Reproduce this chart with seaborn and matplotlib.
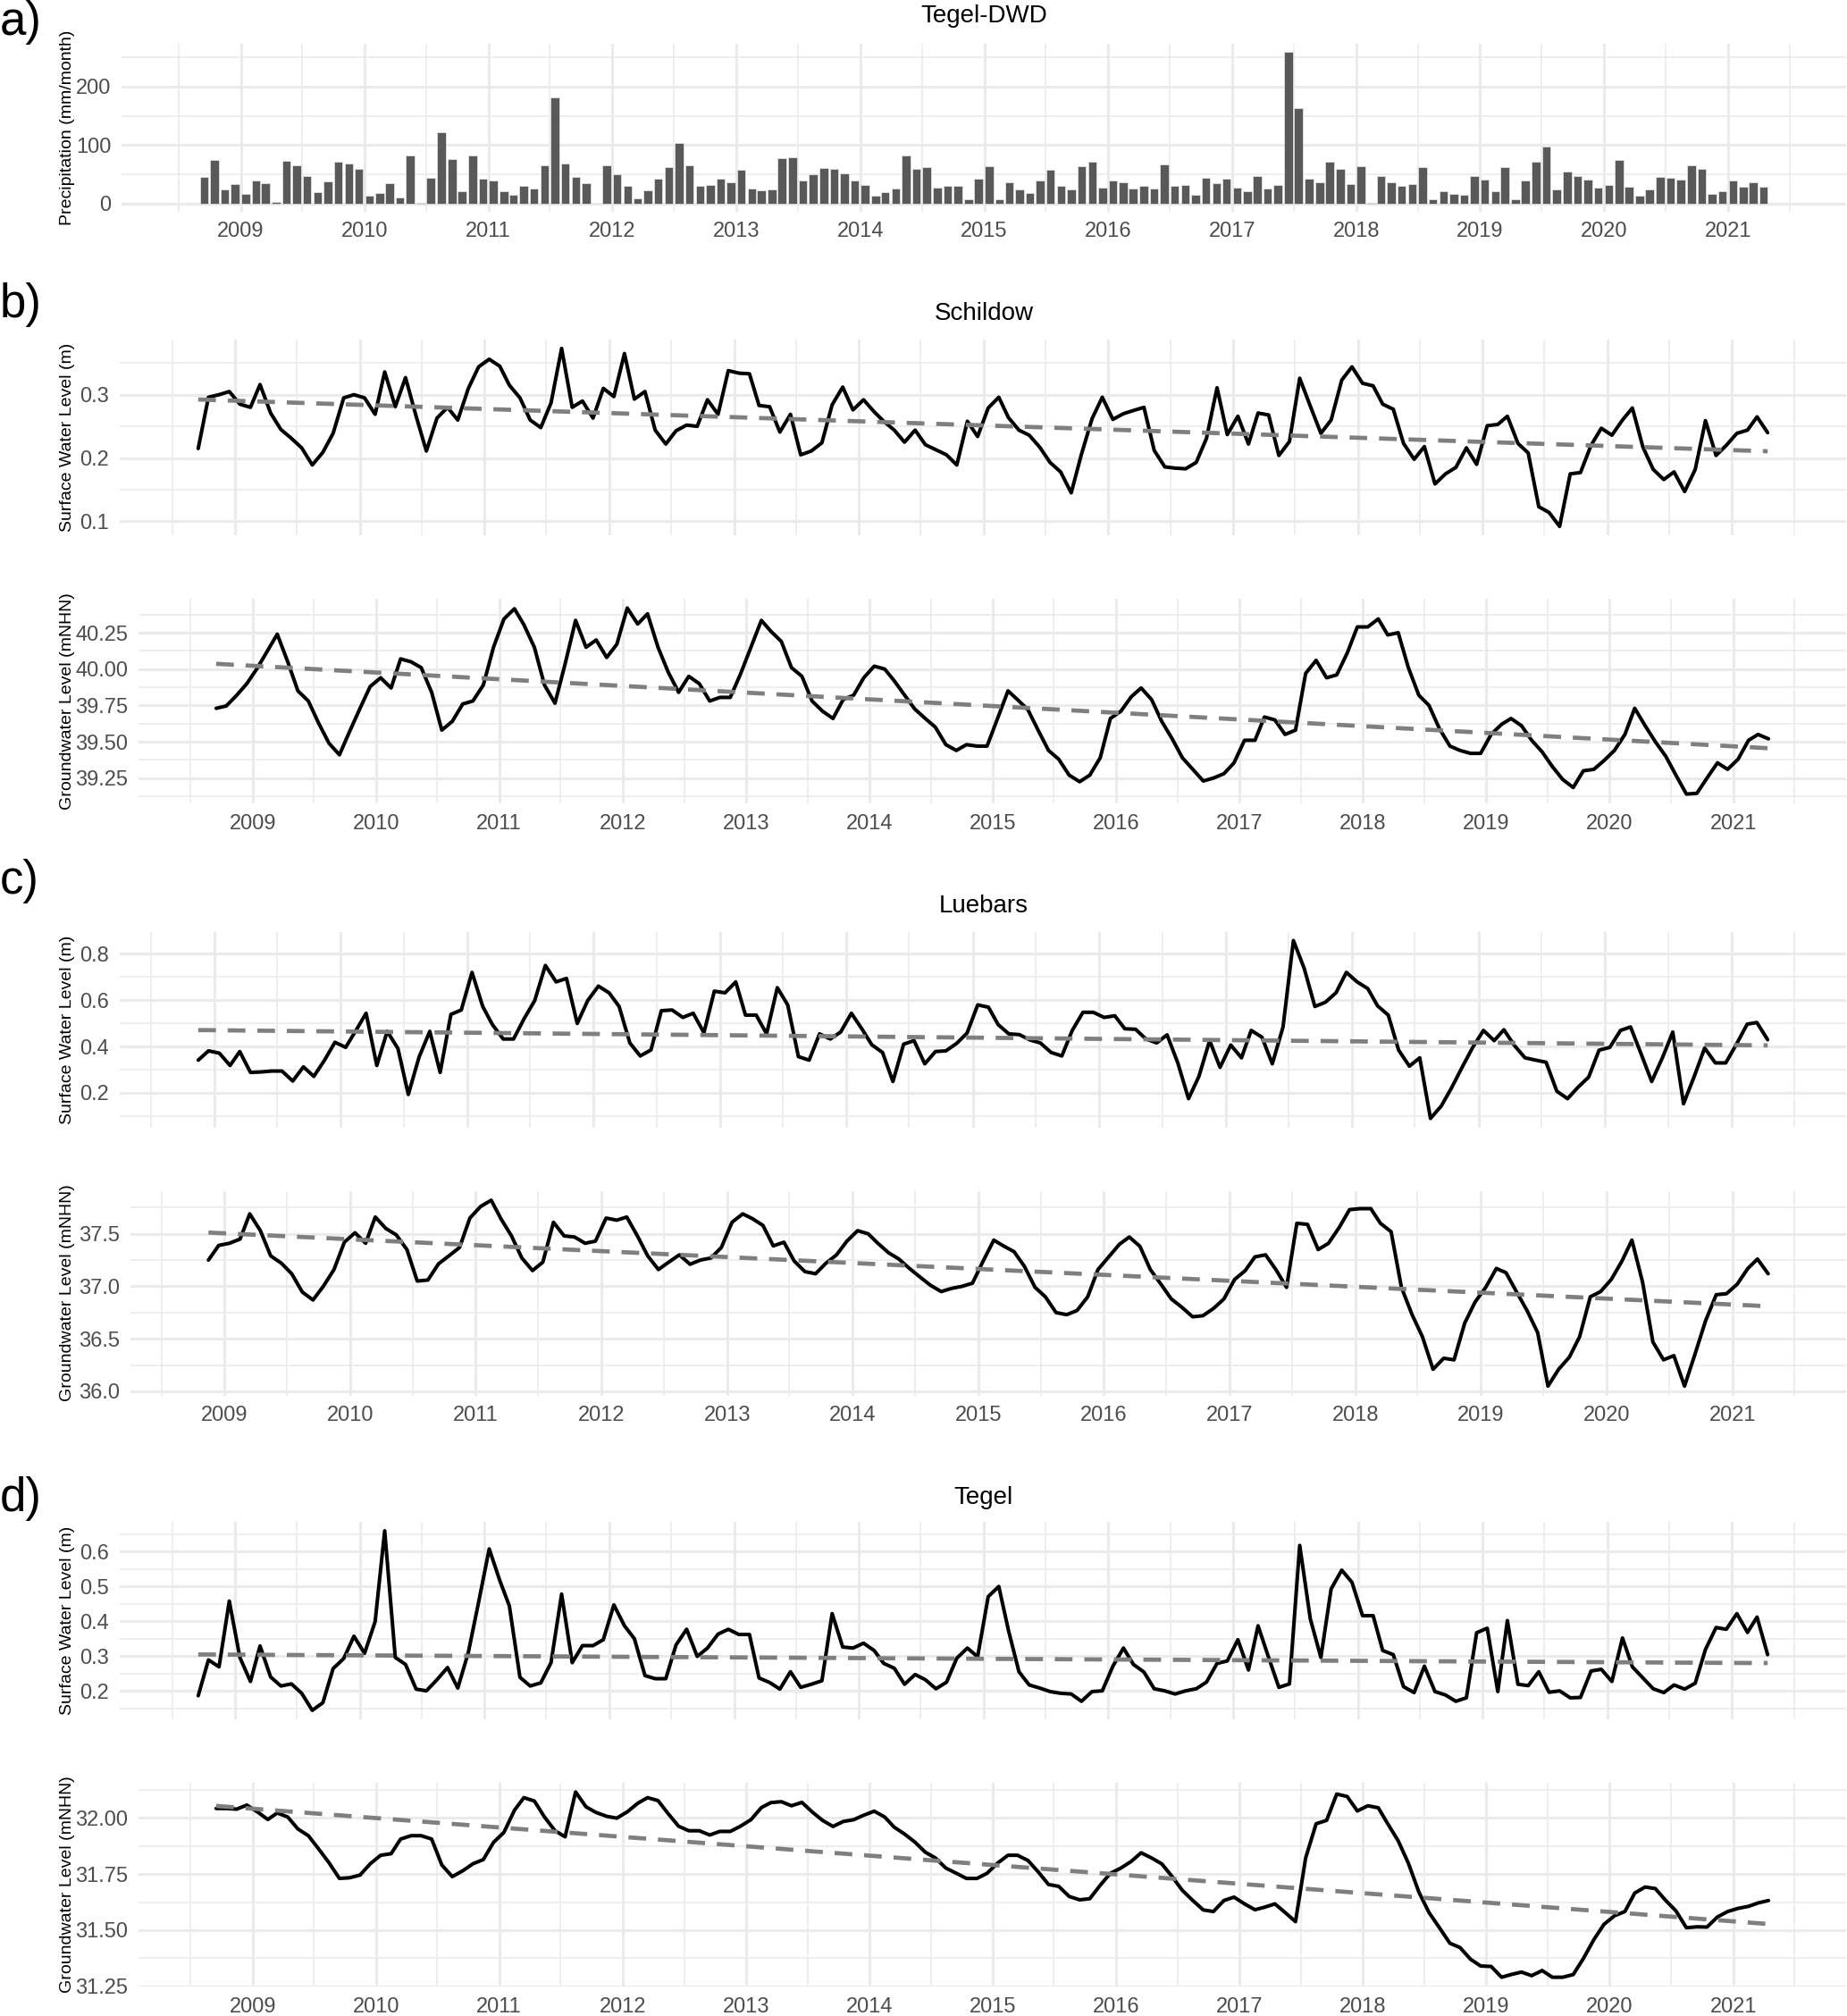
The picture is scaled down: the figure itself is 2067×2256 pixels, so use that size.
import numpy as np
import pandas as pd
import matplotlib
matplotlib.use("Agg")
import matplotlib.pyplot as plt
import matplotlib.dates as mdates
from matplotlib.ticker import MultipleLocator, FormatStrFormatter
import seaborn as sns

# ---- data (monthly) ----
precip_start = "2008-09-01"
precip = [46, 74, 25, 33,
          16, 39, 35, 3, 73, 66, 47, 20, 38, 71, 69, 59,
          14, 18, 35, 10, 83, 2, 44, 122, 76, 22, 83, 42,
          39, 22, 15, 30, 26, 66, 181, 68, 46, 35, 0, 65,
          50, 30, 9, 23, 43, 63, 104, 66, 31, 32, 42, 37,
          58, 26, 23, 25, 78, 80, 40, 50, 61, 59, 52, 39,
          32, 13, 20, 26, 83, 59, 63, 27, 31, 31, 7, 43,
          64, 7, 37, 24, 19, 40, 58, 30, 24, 64, 71, 28,
          40, 37, 26, 31, 26, 67, 30, 32, 15, 44, 35, 43,
          27, 22, 47, 26, 32, 260, 163, 43, 36, 71, 60, 34,
          64, 2, 48, 36, 30, 33, 62, 7, 21, 17, 15, 48,
          41, 21, 62, 8, 39, 71, 98, 24, 55, 47, 41, 27,
          32, 74, 29, 14, 24, 46, 44, 41, 66, 59, 17, 21,
          40, 29, 37, 29]

schildow_start = "2008-09-01"
schildow_sw = [0.215, 0.296, 0.300, 0.305,
               0.285, 0.280, 0.316, 0.271, 0.245, 0.231, 0.216, 0.189, 0.209, 0.239, 0.295, 0.300,
               0.295, 0.269, 0.336, 0.281, 0.327, 0.266, 0.211, 0.263, 0.280, 0.260, 0.310, 0.344,
               0.356, 0.345, 0.315, 0.295, 0.260, 0.248, 0.287, 0.373, 0.280, 0.290, 0.263, 0.310,
               0.297, 0.365, 0.293, 0.305, 0.244, 0.222, 0.243, 0.252, 0.250, 0.292, 0.269, 0.338,
               0.334, 0.333, 0.283, 0.281, 0.241, 0.269, 0.205, 0.211, 0.224, 0.284, 0.312, 0.276,
               0.292, 0.273, 0.258, 0.244, 0.225, 0.244, 0.221, 0.213, 0.205, 0.189, 0.258, 0.234,
               0.279, 0.296, 0.264, 0.244, 0.236, 0.217, 0.193, 0.178, 0.145, 0.206, 0.262, 0.296,
               0.261, 0.270, 0.275, 0.280, 0.212, 0.186, 0.184, 0.183, 0.193, 0.231, 0.311, 0.237,
               0.266, 0.222, 0.271, 0.268, 0.204, 0.226, 0.326, 0.282, 0.239, 0.260, 0.323, 0.344,
               0.318, 0.314, 0.285, 0.277, 0.223, 0.198, 0.218, 0.159, 0.175, 0.185, 0.216, 0.190,
               0.251, 0.253, 0.266, 0.223, 0.208, 0.123, 0.114, 0.092, 0.175, 0.177, 0.220, 0.247,
               0.236, 0.260, 0.279, 0.217, 0.182, 0.166, 0.178, 0.147, 0.182, 0.259, 0.204, 0.220,
               0.239, 0.244, 0.265, 0.240]
schildow_gw = [39.73, 39.746, 39.82, 39.90,
               40.007, 40.13, 40.24, 40.05, 39.85, 39.78, 39.63, 39.49, 39.41, 39.57, 39.73, 39.88,
               39.94, 39.87, 40.07, 40.05, 40.01, 39.84, 39.58, 39.64, 39.76, 39.78, 39.89, 40.15,
               40.345, 40.415, 40.305, 40.15, 39.89, 39.765, 40.035, 40.335, 40.15, 40.20, 40.08, 40.17,
               40.42, 40.31, 40.38, 40.15, 39.98, 39.84, 39.95, 39.90, 39.78, 39.805, 39.805, 39.965,
               40.15, 40.335, 40.26, 40.19, 40.01, 39.95, 39.78, 39.71, 39.66, 39.79, 39.82, 39.94,
               40.02, 40.00, 39.92, 39.82, 39.725, 39.66, 39.60, 39.48, 39.44, 39.48, 39.47, 39.47,
               39.66, 39.85, 39.79, 39.72, 39.58, 39.44, 39.38, 39.27, 39.225, 39.27, 39.39, 39.66,
               39.71, 39.81, 39.87, 39.79, 39.64, 39.52, 39.39, 39.31, 39.23, 39.25, 39.28, 39.355,
               39.51, 39.51, 39.67, 39.65, 39.55, 39.58, 39.97, 40.06, 39.94, 39.96, 40.11, 40.29,
               40.29, 40.345, 40.235, 40.25, 40.01, 39.82, 39.75, 39.59, 39.47, 39.44, 39.42, 39.42,
               39.55, 39.62, 39.66, 39.61, 39.51, 39.43, 39.33, 39.24, 39.185, 39.30, 39.31, 39.37,
               39.44, 39.55, 39.73, 39.61, 39.50, 39.40, 39.27, 39.14, 39.145, 39.25, 39.355, 39.31,
               39.38, 39.51, 39.55, 39.52]

luebars_start = "2008-11-01"
luebars_sw = [0.341, 0.381,
              0.371, 0.318, 0.378, 0.288, 0.290, 0.294, 0.294, 0.251, 0.312, 0.271, 0.341, 0.418,
              0.396, 0.472, 0.543, 0.318, 0.465, 0.391, 0.193, 0.354, 0.465, 0.288, 0.538, 0.557,
              0.719, 0.572, 0.494, 0.432, 0.432, 0.521, 0.597, 0.749, 0.678, 0.693, 0.499, 0.597,
              0.660, 0.631, 0.572, 0.415, 0.359, 0.385, 0.554, 0.557, 0.525, 0.543, 0.459, 0.638,
              0.631, 0.678, 0.535, 0.535, 0.454, 0.653, 0.579, 0.356, 0.341, 0.454, 0.432, 0.462,
              0.543, 0.474, 0.407, 0.374, 0.249, 0.410, 0.425, 0.325, 0.378, 0.381, 0.413, 0.457,
              0.579, 0.569, 0.494, 0.454, 0.451, 0.428, 0.415, 0.374, 0.359, 0.469, 0.547, 0.547,
              0.525, 0.532, 0.476, 0.474, 0.432, 0.415, 0.450, 0.329, 0.175, 0.271, 0.425, 0.310,
              0.406, 0.351, 0.469, 0.440, 0.325, 0.484, 0.856, 0.737, 0.572, 0.590, 0.631, 0.719,
              0.678, 0.649, 0.575, 0.535, 0.384, 0.315, 0.351, 0.090, 0.143, 0.222, 0.312, 0.396,
              0.469, 0.425, 0.472, 0.403, 0.351, 0.341, 0.332, 0.207, 0.175, 0.224, 0.268, 0.384,
              0.396, 0.469, 0.484, 0.366, 0.249, 0.351, 0.462, 0.153, 0.271, 0.393, 0.329, 0.329,
              0.410, 0.496, 0.503, 0.429]
luebars_gw = [37.25, 37.39,
              37.41, 37.45, 37.69, 37.53, 37.29, 37.22, 37.12, 36.945, 36.87, 37.00, 37.16, 37.42,
              37.51, 37.41, 37.66, 37.55, 37.49, 37.35, 37.05, 37.06, 37.215, 37.29, 37.37, 37.65,
              37.76, 37.82, 37.645, 37.48, 37.27, 37.15, 37.23, 37.61, 37.48, 37.47, 37.41, 37.43,
              37.65, 37.63, 37.66, 37.48, 37.29, 37.16, 37.23, 37.30, 37.21, 37.25, 37.27, 37.37,
              37.61, 37.69, 37.645, 37.58, 37.385, 37.42, 37.24, 37.14, 37.12, 37.22, 37.30, 37.43,
              37.53, 37.50, 37.41, 37.32, 37.26, 37.17, 37.09, 37.01, 36.95, 36.98, 37.00, 37.03,
              37.24, 37.44, 37.385, 37.33, 37.19, 36.99, 36.90, 36.75, 36.73, 36.77, 36.90, 37.16,
              37.28, 37.40, 37.47, 37.38, 37.16, 37.02, 36.88, 36.80, 36.71, 36.72, 36.79, 36.88,
              37.065, 37.15, 37.28, 37.30, 37.16, 36.99, 37.60, 37.59, 37.35, 37.41, 37.56, 37.73,
              37.74, 37.74, 37.60, 37.52, 36.99, 36.73, 36.52, 36.21, 36.315, 36.30, 36.65, 36.85,
              36.99, 37.17, 37.13, 36.945, 36.77, 36.56, 36.05, 36.21, 36.325, 36.52, 36.90, 36.95,
              37.065, 37.24, 37.44, 37.04, 36.47, 36.30, 36.34, 36.05, 36.36, 36.67, 36.92, 36.93,
              37.02, 37.17, 37.26, 37.12]

tegel_start = "2008-09-01"
tegel_sw = [0.186, 0.289, 0.269, 0.458,
            0.296, 0.227, 0.329, 0.240, 0.214, 0.220, 0.193, 0.144, 0.166, 0.264, 0.293, 0.357,
            0.308, 0.399, 0.660, 0.296, 0.276, 0.205, 0.200, 0.232, 0.267, 0.208, 0.311, 0.455,
            0.608, 0.517, 0.444, 0.239, 0.214, 0.223, 0.281, 0.478, 0.281, 0.330, 0.330, 0.347,
            0.447, 0.387, 0.350, 0.244, 0.235, 0.235, 0.332, 0.377, 0.299, 0.323, 0.363, 0.377,
            0.362, 0.362, 0.237, 0.224, 0.205, 0.255, 0.210, 0.219, 0.229, 0.422, 0.326, 0.323,
            0.337, 0.316, 0.279, 0.265, 0.219, 0.247, 0.232, 0.206, 0.225, 0.294, 0.323, 0.298,
            0.471, 0.500, 0.375, 0.255, 0.217, 0.208, 0.198, 0.193, 0.191, 0.170, 0.198, 0.200,
            0.271, 0.323, 0.276, 0.254, 0.206, 0.200, 0.191, 0.200, 0.206, 0.225, 0.279, 0.286,
            0.347, 0.260, 0.387, 0.296, 0.210, 0.220, 0.618, 0.407, 0.296, 0.493, 0.547, 0.512,
            0.416, 0.416, 0.316, 0.304, 0.212, 0.195, 0.271, 0.198, 0.188, 0.170, 0.180, 0.367,
            0.380, 0.198, 0.402, 0.219, 0.215, 0.255, 0.196, 0.200, 0.180, 0.181, 0.257, 0.262,
            0.227, 0.352, 0.269, 0.237, 0.206, 0.195, 0.217, 0.205, 0.222, 0.319, 0.382, 0.377,
            0.422, 0.368, 0.412, 0.304]
tegel_gw = [32.041, 32.041, 32.038, 32.056,
            32.026, 31.992, 32.021, 32.003, 31.95, 31.92, 31.862, 31.80, 31.73, 31.733, 31.745, 31.795,
            31.833, 31.84, 31.905, 31.92, 31.92, 31.905, 31.79, 31.738, 31.764, 31.795, 31.814, 31.89,
            31.935, 32.033, 32.089, 32.074, 32.003, 31.942, 31.915, 32.114, 32.048, 32.023, 32.006, 31.998,
            32.026, 32.064, 32.089, 32.076, 32.018, 31.962, 31.942, 31.942, 31.923, 31.939, 31.939, 31.962,
            31.991, 32.045, 32.067, 32.071, 32.053, 32.068, 32.026, 31.988, 31.961, 31.983, 31.991, 32.011,
            32.029, 32.003, 31.958, 31.927, 31.892, 31.847, 31.821, 31.776, 31.753, 31.73, 31.73, 31.753,
            31.798, 31.833, 31.833, 31.81, 31.76, 31.703, 31.695, 31.65, 31.635, 31.64, 31.70, 31.753,
            31.776, 31.806, 31.844, 31.821, 31.795, 31.738, 31.677, 31.632, 31.59, 31.583, 31.632, 31.647,
            31.617, 31.591, 31.602, 31.617, 31.579, 31.538, 31.821, 31.973, 31.988, 32.105, 32.094, 32.03,
            32.053, 32.044, 31.973, 31.897, 31.798, 31.67, 31.579, 31.511, 31.442, 31.423, 31.371, 31.341,
            31.339, 31.291, 31.303, 31.314, 31.298, 31.321, 31.291, 31.291, 31.303, 31.374, 31.458, 31.526,
            31.564, 31.583, 31.665, 31.692, 31.685, 31.632, 31.586, 31.511, 31.515, 31.514, 31.559, 31.583,
            31.597, 31.606, 31.621, 31.632]

# ---- style ----
W, H, DPI = 2067, 2256, 100
GRID = "#EBEBEB"
TICK = "#4D4D4D"
BAR = "#595959"
TREND = "#7F7F7F"

sns.set_theme(style="white")
plt.rcParams["font.family"] = ["Liberation Sans", "DejaVu Sans"]


def box(l, t, r, b):
    return [l / W, 1 - b / H, (r - l) / W, (b - t) / H]


def month_dates(start, n):
    return pd.date_range(start, periods=n, freq="MS") + pd.Timedelta(days=14)


def style(ax, step, fmt, show_x):
    for s in ax.spines.values():
        s.set_visible(False)
    ax.xaxis.set_major_locator(mdates.YearLocator())
    ax.xaxis.set_minor_locator(mdates.MonthLocator(bymonth=7))
    ax.xaxis.set_major_formatter(mdates.DateFormatter("%Y"))
    ax.yaxis.set_major_locator(MultipleLocator(step))
    ax.yaxis.set_minor_locator(MultipleLocator(step / 2))
    ax.yaxis.set_major_formatter(FormatStrFormatter(fmt))
    ax.grid(which="major", color=GRID, lw=2.2)
    ax.grid(which="minor", color=GRID, lw=1.2)
    ax.set_axisbelow(True)
    ax.tick_params(which="both", length=0, labelsize=17, labelcolor=TICK, pad=8.5)
    ax.tick_params(axis="x", labelbottom=show_x)
    ax.set_xlabel("")
    ax.set_ylabel("")


def set_limits(ax, x0, x1, y0, y1):
    dx, dy = (x1 - x0) * 0.05, (y1 - y0) * 0.05
    ax.set_xlim(x0 - dx, x1 + dx)
    ax.set_ylim(y0 - dy, y1 + dy)


def level_panel(ax, start, values, step, fmt, show_x):
    dates = month_dates(start, len(values))
    xn = mdates.date2num(dates)
    sns.lineplot(x=dates, y=values, color="black", lw=2.9, ax=ax)
    sns.regplot(x=xn, y=np.array(values), scatter=False, ci=None, truncate=True, ax=ax,
                line_kws=dict(color=TREND, lw=3.4, ls=(0, (4.2, 2.8))))
    set_limits(ax, xn[0], xn[-1], min(values), max(values))
    style(ax, step, fmt, show_x)


fig = plt.figure(figsize=(W / DPI, H / DPI), dpi=DPI)
fig.patch.set_facecolor("white")

# a) precipitation
ax = fig.add_axes(box(136, 49, 2066, 236.5))
pdates = month_dates(precip_start, len(precip))
pn = mdates.date2num(pdates)
ax.bar(pdates, precip, width=25.2, color=BAR, edgecolor="#E0E0E0", linewidth=0.6)
set_limits(ax, pn[0] - 12.6, pn[-1] + 12.6, 0, max(precip))
style(ax, 100, "%d", True)

# station panels: (surface box, groundwater box, ...)
panels = [
    (box(134, 380, 2066, 599), box(155, 670, 2066, 899), schildow_start, schildow_sw, schildow_gw,
     (0.1, "%.1f"), (0.25, "%.2f")),
    (box(134, 1042.6, 2066, 1261.5), box(146, 1332.7, 2066, 1561.5), luebars_start, luebars_sw, luebars_gw,
     (0.2, "%.1f"), (0.5, "%.1f")),
    (box(134, 1703, 2066, 1924), box(155, 1995, 2066, 2223), tegel_start, tegel_sw, tegel_gw,
     (0.1, "%.1f"), (0.25, "%.2f")),
]
for sw_box, gw_box, start, sw, gw, sw_tk, gw_tk in panels:
    ax_s = fig.add_axes(sw_box)
    level_panel(ax_s, start, sw, sw_tk[0], sw_tk[1], False)
    ax_g = fig.add_axes(gw_box)
    level_panel(ax_g, start, gw, gw_tk[0], gw_tk[1], True)

# titles, panel letters and axis titles
titles = [("Tegel-DWD", 18), ("Schildow", 351), ("Luebars", 1014), ("Tegel", 1676)]
for txt, y in titles:
    fig.text(1101 / W, 1 - y / H, txt, fontsize=20, ha="center", va="center", color="black")

letters = [("a)", 25), ("b)", 341), ("c)", 986), ("d)", 1677)]
for txt, y in letters:
    fig.text(0.0, 1 - y / H, txt, fontsize=38, ha="left", va="center", color="black")

ylabels = [("Precipitation (mm/month)", (49 + 236.5) / 2),
           ("Surface Water Level (m)", (380 + 599) / 2),
           ("Groundwater Level (mNHN)", (670 + 899) / 2),
           ("Surface Water Level (m)", (1042.6 + 1261.5) / 2),
           ("Groundwater Level (mNHN)", (1332.7 + 1561.5) / 2),
           ("Surface Water Level (m)", (1703 + 1924) / 2),
           ("Groundwater Level (mNHN)", (1995 + 2223) / 2)]
for txt, y in ylabels:
    fig.text(75 / W, 1 - y / H, txt, fontsize=14, rotation=90, ha="center", va="center", color="black")

fig.savefig("out.png", dpi=DPI, facecolor="white")
